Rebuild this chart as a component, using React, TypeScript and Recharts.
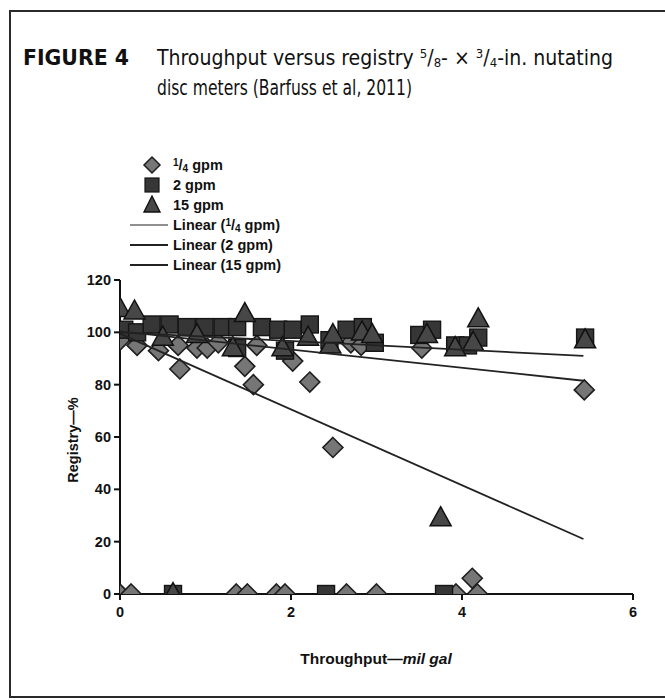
import React from "react";
import { ScatterChart, Scatter, XAxis, YAxis } from "recharts";

// ---- data ----
const quarterX = [0, 0.13, 1.36, 1.49, 1.83, 1.93, 2.65, 3.0, 3.93, 4.12, 4.18, 0.0, 0.2, 0.45, 0.68, 0.9, 1.02, 1.15, 1.6, 2.7, 2.82, 3.53, 0.7, 1.46, 1.56, 2.02, 2.22, 2.49, 5.43];
const quarterY = [0, 0, 0, 0, 0, 0, 0, 0, 0, 6, 0, 97, 95, 93, 95, 94, 94, 96, 95, 96, 95, 94, 86, 87, 80, 89, 81, 56, 78];

const twoX = [0.62, 2.41, 3.79, 0.05, 0.2, 0.37, 0.58, 0.78, 0.99, 1.2, 1.37, 1.37, 1.66, 1.85, 1.93, 2.02, 2.22, 2.45, 2.65, 2.84, 2.98, 3.5, 3.65, 3.92, 4.07, 4.19, 5.44];
const twoY = [0, 0, 0, 101, 100, 103, 103, 102, 102, 102, 102, 94, 102, 101, 93, 101, 103, 97, 101, 102, 96, 99, 101, 95, 95, 98, 98];

const fifteenX = [0.0, 0.17, 0.62, 0.5, 0.9, 1.32, 1.46, 1.9, 2.2, 2.46, 2.49, 2.83, 2.95, 3.59, 3.75, 3.92, 4.13, 4.19, 5.44];
const fifteenY = [109, 108, 0, 98, 99, 94, 107, 94, 98, 95, 99, 100, 99, 99, 29, 94, 96, 105, 97];

const trendX = [0, 5.42];
const quarterTrendY = [99.5, 21];
const twoTrendY = [100, 91];
const fifteenTrendY = [100.4, 81.5];

const xTicks = [0, 2, 4, 6];
const yTicks = [0, 20, 40, 60, 80, 100, 120];

const zip = (xs: number[], ys: number[]) => xs.map((x, i) => ({ x, y: ys[i] }));

const quarterData = zip(quarterX, quarterY);
const twoData = zip(twoX, twoY);
const fifteenData = zip(fifteenX, fifteenY);
const quarterTrend = zip(trendX, quarterTrendY);
const twoTrend = zip(trendX, twoTrendY);
const fifteenTrend = zip(trendX, fifteenTrendY);

const FONT = "'Liberation Sans', Arial, Helvetica, sans-serif";
const NARROW = "'Liberation Sans Narrow', 'DejaVu Sans Condensed', 'Liberation Sans', Arial, sans-serif";

const Diamond = (props: any) => {
  const { cx, cy } = props;
  if (cx == null || cy == null) return null;
  const r = 10;
  return (
    <polygon
      points={`${cx},${cy - r} ${cx + r},${cy} ${cx},${cy + r} ${cx - r},${cy}`}
      fill="#767676"
      stroke="#1e1e1e"
      strokeWidth={1.6}
    />
  );
};

const Square = (props: any) => {
  const { cx, cy } = props;
  if (cx == null || cy == null) return null;
  const s = 17;
  return <rect x={cx - s / 2} y={cy - s / 2} width={s} height={s} fill="#363636" stroke="#151515" strokeWidth={1.4} />;
};

const Triangle = (props: any) => {
  const { cx, cy } = props;
  if (cx == null || cy == null) return null;
  const w = 21;
  const h = 19;
  return (
    <polygon
      points={`${cx},${cy - h * 0.6} ${cx + w / 2},${cy + h * 0.4} ${cx - w / 2},${cy + h * 0.4}`}
      fill="#474747"
      stroke="#111"
      strokeWidth={1.5}
    />
  );
};

const NoShape = () => null;

const XTick = (props: any) => {
  const { x, y, payload } = props;
  return (
    <text x={x} y={y} dy={15} textAnchor="middle" fontFamily={FONT} fontWeight="bold" fontSize={14.5} fill="#111">
      {payload.value}
    </text>
  );
};

const YTick = (props: any) => {
  const { x, y, payload } = props;
  return (
    <text x={x} y={y} dy={5} textAnchor="end" fontFamily={FONT} fontWeight="bold" fontSize={14.5} fill="#111">
      {payload.value}
    </text>
  );
};

const Overlay = () => (
  <svg
    width={665}
    height={700}
    style={{ position: "absolute", left: 0, top: 0, pointerEvents: "none" }}
  >
    {/* frame */}
    <rect x={10} y={11} width={700} height={686} fill="none" stroke="#2a2a2a" strokeWidth={2} />

    {/* title */}
    <text x={23} y={65} fontFamily={NARROW} fontWeight="bold" fontSize={21} fill="#111" textLength={106} lengthAdjust="spacingAndGlyphs">
      FIGURE 4
    </text>
    <text x={157} y={65} fontFamily={NARROW} fontSize={21} fill="#111" textLength={456} lengthAdjust="spacingAndGlyphs">
      Throughput versus registry <tspan fontSize={13} dy={-7}>5</tspan>
      <tspan dy={7}>/</tspan>
      <tspan fontSize={13} dy={2}>8</tspan>
      <tspan dy={-2}>- × </tspan>
      <tspan fontSize={13} dy={-7}>3</tspan>
      <tspan dy={7}>/</tspan>
      <tspan fontSize={13} dy={2}>4</tspan>
      <tspan dy={-2}>-in. nutating</tspan>
    </text>
    <text x={157} y={95} fontFamily={NARROW} fontSize={21} fill="#111" textLength={255} lengthAdjust="spacingAndGlyphs">
      disc meters (Barfuss et al, 2011)
    </text>

    {/* legend */}
    <polygon points="152,157 160,165 152,173 144,165" fill="#767676" stroke="#1e1e1e" strokeWidth={1.5} />
    <rect x={145} y={178} width={14} height={14} fill="#363636" stroke="#151515" strokeWidth={1.2} />
    <polygon points="152,196 160,212 144,212" fill="#474747" stroke="#111" strokeWidth={1.4} />
    <line x1={130} x2={168} y1={225} y2={225} stroke="#6a6a6a" strokeWidth={1.6} />
    <line x1={130} x2={168} y1={245} y2={245} stroke="#222" strokeWidth={1.8} />
    <line x1={130} x2={168} y1={265} y2={265} stroke="#222" strokeWidth={1.8} />

    <g fontFamily={FONT} fontWeight="bold" fontSize={14.5} fill="#111">
      <text x={173} y={170}>
        <tspan fontSize={10} dy={-4}>1</tspan>
        <tspan dy={4}>/</tspan>
        <tspan fontSize={10} dy={2}>4</tspan>
        <tspan dy={-2}> gpm</tspan>
      </text>
      <text x={173} y={190}>2 gpm</text>
      <text x={173} y={210}>15 gpm</text>
      <text x={173} y={230}>
        Linear (<tspan fontSize={10} dy={-4}>1</tspan>
        <tspan dy={4}>/</tspan>
        <tspan fontSize={10} dy={2}>4</tspan>
        <tspan dy={-2}> gpm)</tspan>
      </text>
      <text x={173} y={250}>Linear (2 gpm)</text>
      <text x={173} y={270}>Linear (15 gpm)</text>
    </g>

    {/* axis titles */}
    <text
      x={0}
      y={0}
      transform="translate(78,440) rotate(-90)"
      textAnchor="middle"
      fontFamily={FONT}
      fontWeight="bold"
      fontSize={14.5}
      fill="#111"
    >
      Registry—%
    </text>
    <text x={376} y={664} textAnchor="middle" fontFamily={FONT} fontWeight="bold" fontSize={15.5} fill="#111">
      Throughput—<tspan fontStyle="italic">mil gal</tspan>
    </text>
  </svg>
);

export default function App() {
  return (
    <div style={{ position: "absolute", left: 0, top: 0, width: 665, height: 700, background: "#fff" }}>
      <ScatterChart width={665} height={700} margin={{ top: 280, right: 32, bottom: 76, left: 0 }}>
        <XAxis
          type="number"
          dataKey="x"
          domain={[0, 6]}
          ticks={xTicks}
          interval={0}
          height={30}
          axisLine={{ stroke: "#111", strokeWidth: 2 }}
          tickLine={{ stroke: "#111", strokeWidth: 2 }}
          tickSize={6}
          tick={<XTick />}
          allowDataOverflow
        />
        <YAxis
          type="number"
          dataKey="y"
          domain={[0, 120]}
          ticks={yTicks}
          interval={0}
          width={120}
          axisLine={{ stroke: "#111", strokeWidth: 2 }}
          tickLine={{ stroke: "#111", strokeWidth: 2 }}
          tickSize={6}
          tickMargin={3}
          tick={<YTick />}
          allowDataOverflow
        />
        <Scatter name="1/4 gpm" data={quarterData} shape={<Diamond />} isAnimationActive={false} />
        <Scatter name="2 gpm" data={twoData} shape={<Square />} isAnimationActive={false} />
        <Scatter name="15 gpm" data={fifteenData} shape={<Triangle />} isAnimationActive={false} />
        <Scatter
          name="Linear (1/4 gpm)"
          data={quarterTrend}
          line={{ stroke: "#222", strokeWidth: 1.8 }}
          shape={<NoShape />}
          isAnimationActive={false}
        />
        <Scatter
          name="Linear (2 gpm)"
          data={twoTrend}
          line={{ stroke: "#222", strokeWidth: 1.8 }}
          shape={<NoShape />}
          isAnimationActive={false}
        />
        <Scatter
          name="Linear (15 gpm)"
          data={fifteenTrend}
          line={{ stroke: "#222", strokeWidth: 1.8 }}
          shape={<NoShape />}
          isAnimationActive={false}
        />
      </ScatterChart>
      <Overlay />
    </div>
  );
}
